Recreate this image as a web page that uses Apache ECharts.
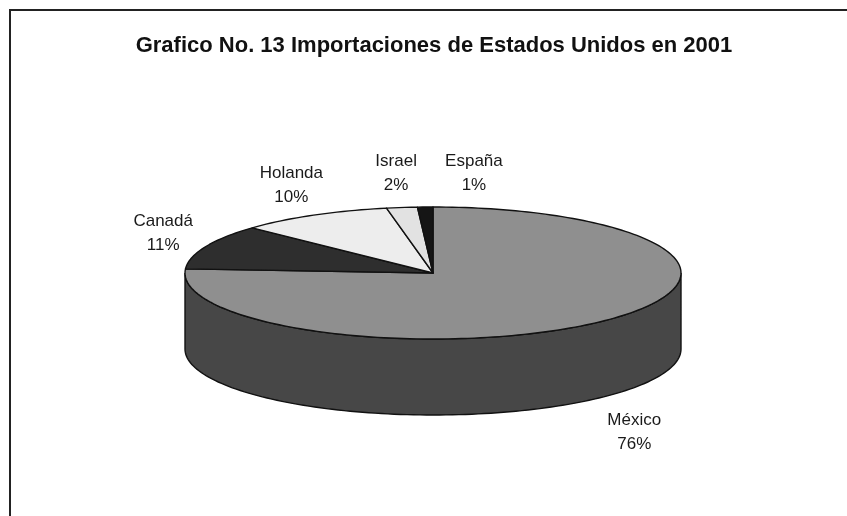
<!DOCTYPE html>
<html>
<head>
<meta charset="utf-8">
<script src="https://cdn.jsdelivr.net/npm/echarts@6/dist/echarts.min.js"></script>
<style>
html,body{margin:0;padding:0;background:#fff;}
#chart{width:847px;height:516px;}
</style>
</head>
<body>
<div id="chart"></div>
<script>
// ---- data ----
const categories = ['México', 'Canadá', 'Holanda', 'Israel', 'España'];
const values = [76, 11, 10, 2, 1];
const titleText = 'Grafico No. 13 Importaciones de Estados Unidos en 2001';

// ---- styles / layout ----
const topColors  = ['#8f8f8f', '#2e2e2e', '#ededed', '#e2e2e2', '#151515'];
const sideColors = ['#474747', '#222222', '#bdbdbd', '#b5b5b5', '#0a0a0a'];
const CX = 433, CY = 273, RX = 248, RY = 66, DEPTH = 76;
const LRX = RX + 46, LRY = RY + 34, FRONT_EXTRA = 10;
const FONT = '"Liberation Sans", Arial, sans-serif';

const total = values.reduce((a, b) => a + b, 0);
const angles = [];
let acc = 0;
values.forEach(v => {
  const a0 = 90 - acc / total * 360;
  acc += v;
  const a1 = 90 - acc / total * 360;
  angles.push([a0, a1]);
});
const rad = d => d * Math.PI / 180;
function pt(deg, dy) {
  return [CX + RX * Math.cos(rad(deg)), CY - RY * Math.sin(rad(deg)) + (dy || 0)];
}
function arc(from, to, dy) {
  const n = Math.max(2, Math.ceil(Math.abs(from - to) / 1.5));
  const out = [];
  for (let k = 0; k <= n; k++) out.push(pt(from + (to - from) * k / n, dy));
  return out;
}

// label positions (derived from slice mid-angles), with simple collision push
const labelPos = angles.map(([a0, a1]) => {
  const m = (a0 + a1) / 2;
  const s = Math.sin(rad(m));
  const x = CX + LRX * Math.cos(rad(m));
  let y = CY - LRY * s;
  if (s < 0) y += DEPTH + FRONT_EXTRA;
  return [x, y];
});
const labelW = categories.map(c => Math.max(c.length * 9.3, 30));
for (let i = 1; i < labelPos.length; i++) {
  const p = labelPos[i - 1], q = labelPos[i];
  if (Math.abs(p[1] - q[1]) < 40) {
    const minGap = (labelW[i - 1] + labelW[i]) / 2 + 22;
    if (Math.abs(q[0] - p[0]) < minGap) q[0] = p[0] + minGap;
  }
}

const chart = echarts.init(document.getElementById('chart'), null, {renderer: 'canvas'});
const seriesData = values.map((v, i) => [i, v]);

chart.setOption({
  backgroundColor: '#ffffff',
  animation: false,
  graphic: [
    { type: 'rect', shape: { x: 10, y: 10, width: 900, height: 600 },
      style: { fill: 'none', stroke: '#222', lineWidth: 2 } },
    { type: 'text', x: 434, y: 46,
      style: { text: titleText, fill: '#111', font: 'bold 22px ' + FONT,
               align: 'center', verticalAlign: 'middle' } }
  ],
  series: [
    {
      type: 'custom', coordinateSystem: 'none', z: 1,
      data: seriesData,
      renderItem: function (params, api) {
        const i = params.dataIndex;
        const [a0, a1] = angles[i];
        const hi = Math.min(a0, 0), lo = Math.max(a1, -180);
        if (hi <= lo) return { type: 'group', children: [] };
        const top = arc(hi, lo, 0);
        const bot = arc(lo, hi, DEPTH);
        return { type: 'polygon', shape: { points: top.concat(bot) },
          style: { fill: sideColors[i], stroke: '#111', lineWidth: 1.4 } };
      }
    },
    {
      type: 'custom', coordinateSystem: 'none', z: 2,
      data: seriesData,
      renderItem: function (params, api) {
        const i = params.dataIndex;
        const [a0, a1] = angles[i];
        const pts = [[CX, CY]].concat(arc(a0, a1, 0));
        const pct = Math.round(api.value(1) / total * 100) + '%';
        return { type: 'group', children: [
          { type: 'polygon', shape: { points: pts },
            style: { fill: topColors[i], stroke: '#111', lineWidth: 1.4, lineJoin: 'round' } },
          { type: 'text', x: labelPos[i][0], y: labelPos[i][1],
            style: { text: categories[i] + '\n' + pct, fill: '#1a1a1a',
              font: '17px ' + FONT, lineHeight: 24, align: 'center', verticalAlign: 'middle' } }
        ] };
      }
    }
  ]
});
</script>
</body>
</html>
